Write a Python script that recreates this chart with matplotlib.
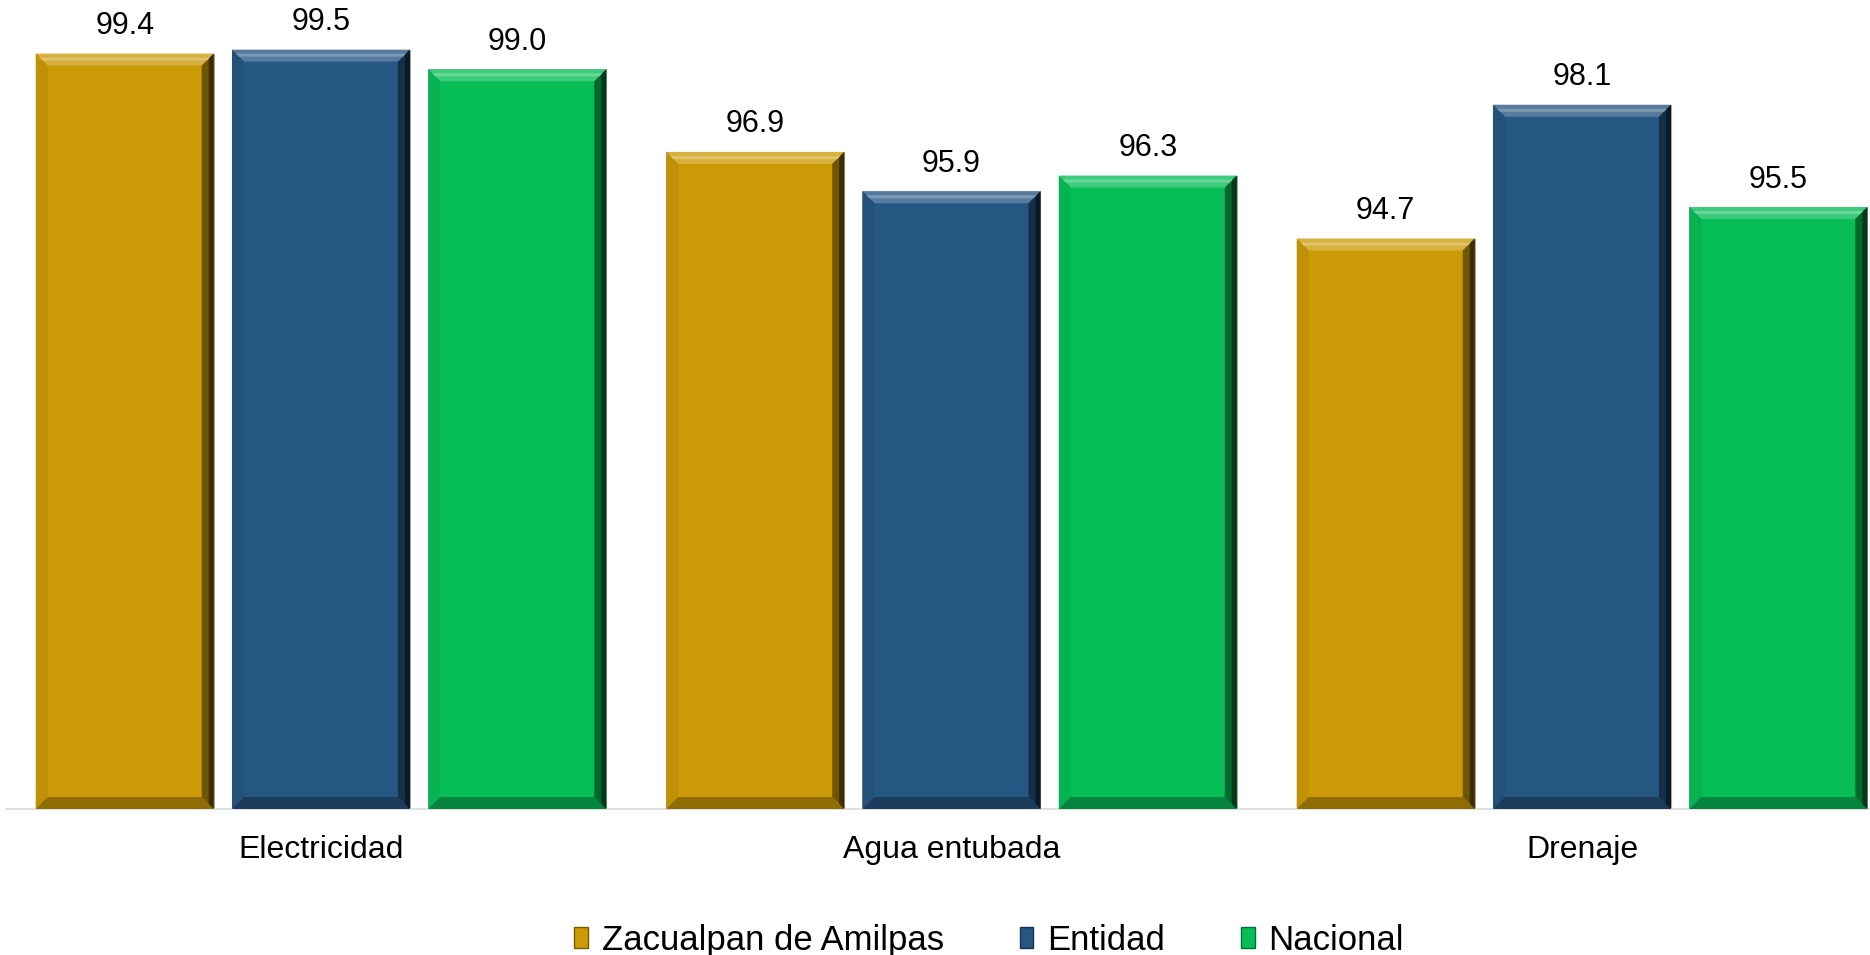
import matplotlib
matplotlib.use("Agg")
import matplotlib.pyplot as plt
from matplotlib.patches import Polygon, Patch
from matplotlib.transforms import IdentityTransform
import numpy as np

plt.rcParams['font.family'] = ['Liberation Sans', 'DejaVu Sans']

categories = ["Electricidad", "Agua entubada", "Drenaje"]
series_names = ["Zacualpan de Amilpas", "Entidad", "Nacional"]
zacualpan = [99.4, 96.9, 94.7]
entidad = [99.5, 95.9, 98.1]
nacional = [99.0, 96.3, 95.5]
colors = ["#CC9A06", "#265682", "#06BD56"]

W, H = 1870, 955
fig = plt.figure(figsize=(W / 100, H / 100), dpi=100)
ax = fig.add_axes([6 / W, 1 - 809 / H, (1870 - 6) / W, (809 - 30) / H])
ax.set_xlim(-0.4996, 2.4568)
ax.set_ylim(80.2, 100)

x = np.arange(len(categories))
width = 0.2823
offsets = [-0.3113, 0.0, 0.3113]
all_series = [zacualpan, entidad, nacional]

def mix(c, t, f):
    c = np.array(matplotlib.colors.to_rgb(c))
    t = np.array(matplotlib.colors.to_rgb(t))
    return tuple(c * (1 - f) + t * f)

bars_all = []
for vals, off, col, name in zip(all_series, offsets, colors, series_names):
    bars = ax.bar(x + off, vals, width, bottom=0, color=col, label=name,
                  edgecolor="#A6A6A6", linewidth=0.8, zorder=2)
    bars_all.append((bars, col))
    for b, v in zip(bars, vals):
        ax.annotate(f"{v:.1f}", (b.get_x() + b.get_width() / 2, v),
                    xytext=(0, 9), textcoords="offset points",
                    ha="center", va="bottom", fontsize=22, color="black")

# bevel decoration derived from bar geometry
fig.canvas.draw()
bv = 12
for bars, col in bars_all:
    for b in bars:
        x0, y0 = ax.transData.transform((b.get_x(), 80.2))
        x1, y1 = ax.transData.transform((b.get_x() + b.get_width(), b.get_height()))
        polys = [
            ([(x0, y1), (x1, y1), (x1 - bv, y1 - bv), (x0 + bv, y1 - bv)], mix(col, "white", 0.22)),
            ([(x0, y0), (x0, y1), (x0 + bv, y1 - bv), (x0 + bv, y0 + bv)], mix(col, "black", 0.06)),
            ([(x1, y0), (x1, y1), (x1 - bv, y1 - bv), (x1 - bv, y0 + bv)], mix(col, "black", 0.45)),
            ([(x0, y0), (x1, y0), (x1 - bv, y0 + bv), (x0 + bv, y0 + bv)], mix(col, "black", 0.3)),
        ]
        for pts, c in polys:
            ax.add_patch(Polygon(pts, closed=True, transform=IdentityTransform(),
                                 facecolor=c, edgecolor="none", zorder=3))
        ax.add_patch(Polygon([(x1, y0), (x1, y1), (x1 - 5, y1 - 5), (x1 - 5, y0 + 5)],
                             closed=True, transform=IdentityTransform(),
                             facecolor=mix(col, "black", 0.7), edgecolor="none", zorder=3))
        ax.add_patch(Polygon([(x0 + 4, y1 - 4), (x1 - 4, y1 - 4), (x1 - 7, y1 - 7), (x0 + 7, y1 - 7)],
                             closed=True, transform=IdentityTransform(),
                             facecolor=mix(col, "white", 0.4), edgecolor="none", zorder=3))

for s in ["top", "right", "left"]:
    ax.spines[s].set_visible(False)
ax.spines["bottom"].set_color("#D9D9D9")
ax.spines["bottom"].set_linewidth(1.2)
ax.set_yticks([])
ax.set_xticks(x)
ax.set_xticklabels(categories, fontsize=23)
ax.tick_params(axis="x", length=0, pad=19)

handles = [Patch(facecolor=c, edgecolor=mix(c, "black", 0.4), linewidth=1) for c in colors]
leg = fig.legend(handles, series_names, loc="center", bbox_to_anchor=(0.529, 1 - 940 / H),
                 ncol=3, frameon=False, fontsize=25, handlelength=0.38, handleheight=0.55,
                 handletextpad=0.4, columnspacing=2.2)

fig.savefig("out.png", dpi=100)
